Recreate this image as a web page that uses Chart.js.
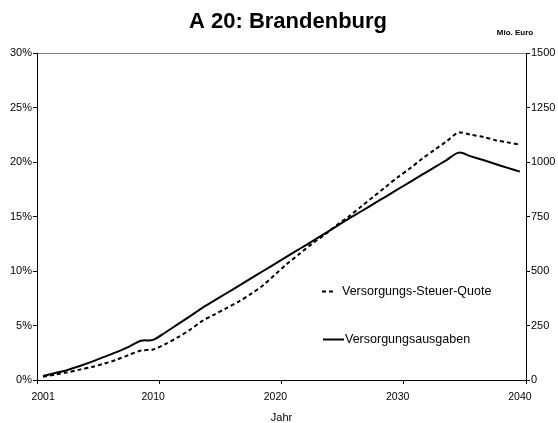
<!DOCTYPE html>
<html>
<head>
<meta charset="utf-8">
<script src="https://cdn.jsdelivr.net/npm/chart.js@4"></script>
<style>
  html, body { margin: 0; padding: 0; background: #fff; }
</style>
</head>
<body>
<canvas id="chart" width="558" height="423"></canvas>
<script>
  'use strict';

  var years = [2001, 2002, 2003, 2004, 2005, 2006, 2007, 2008, 2009, 2010,
               2011, 2012, 2013, 2014, 2015, 2016, 2017, 2018, 2019, 2020,
               2021, 2022, 2023, 2024, 2025, 2026, 2027, 2028, 2029, 2030,
               2031, 2032, 2033, 2034, 2035, 2036, 2037, 2038, 2039, 2040];

  // Versorgungs-Steuer-Quote in % (linke Achse)
  var quote = [0.3, 0.5, 0.7, 0.95, 1.2, 1.5, 1.85, 2.3, 2.7, 2.8,
               3.3, 3.9, 4.6, 5.4, 6.0, 6.6, 7.2, 7.9, 8.7, 9.7,
               10.7, 11.6, 12.5, 13.3, 14.2, 15.0, 15.9, 16.8, 17.7, 18.6,
               19.4, 20.3, 21.1, 21.9, 22.7, 22.5, 22.3, 22.0, 21.8, 21.6];

  // Versorgungsausgaben in Mio. Euro (rechte Achse)
  var ausgaben = [18, 32, 46, 64, 84, 106, 128, 152, 180, 184,
                  218, 255, 292, 330, 364, 398, 432, 466, 500, 534,
                  568, 602, 636, 670, 705, 740, 773, 807, 840, 874,
                  908, 942, 975, 1009, 1043, 1026, 1009, 991, 973, 956];

  var xTickLabels = ['2001', '2010', '2020', '2030', '2040'];

  var font = 'Liberation Sans';

  // title, unit label and legend inside the plot
  var extras = {
    id: 'extras',
    afterDraw: function(chart) {
      var ctx = chart.ctx;
      ctx.save();
      ctx.fillStyle = '#000';
      ctx.textBaseline = 'middle';

      ctx.textAlign = 'center';
      ctx.font = 'bold 22px ' + font;
      ctx.fillText('A 20: Brandenburg', 288, 22);

      ctx.font = 'bold 8px ' + font;
      ctx.fillText('Mio. Euro', 515, 33);

      var items = [
        { ds: chart.data.datasets[0], x1: 322, x2: 334, tx: 342, y: 291.5 },
        { ds: chart.data.datasets[1], x1: 323, x2: 344, tx: 345, y: 339.5 }
      ];
      ctx.textAlign = 'left';
      ctx.font = '12.5px ' + font;
      items.forEach(function(it) {
        ctx.beginPath();
        ctx.strokeStyle = it.ds.borderColor;
        ctx.lineWidth = it.ds.borderWidth;
        ctx.setLineDash(it.ds.borderDash || []);
        ctx.moveTo(it.x1, it.y);
        ctx.lineTo(it.x2, it.y);
        ctx.stroke();
        ctx.setLineDash([]);
        ctx.fillText(it.ds.label, it.tx, it.y);
      });
      ctx.restore();
    }
  };

  var chart = new Chart(document.getElementById('chart').getContext('2d'), {
    type: 'line',
    data: {
      labels: years,
      datasets: [{
        label: 'Versorgungs-Steuer-Quote',
        data: quote,
        yAxisID: 'y',
        borderColor: '#000',
        borderWidth: 2,
        borderDash: [4, 3],
        pointRadius: 0,
        tension: 0.3,
        fill: false
      }, {
        label: 'Versorgungsausgaben',
        data: ausgaben,
        yAxisID: 'y2',
        borderColor: '#000',
        borderWidth: 2,
        pointRadius: 0,
        tension: 0.3,
        fill: false
      }]
    },
    options: {
      responsive: false,
      animation: false,
      layout: { padding: { top: 53, left: 0, right: 0, bottom: 0 } },
      plugins: {
        legend: { display: false },
        tooltip: { enabled: false },
        title: { display: false }
      },
      scales: {
        x: {
          type: 'category',
          offset: true,
          grid: {
            offset: true,
            drawOnChartArea: false,
            tickLength: 4,
            tickColor: function(c) {
              if (c.index === undefined || c.index % 10 === 0) return '#000';
              return 'rgba(0,0,0,0)';
            }
          },
          border: { color: '#000', width: 1 },
          ticks: {
            autoSkip: false,
            maxRotation: 0,
            minRotation: 0,
            padding: 7,
            color: '#000',
            font: { family: font, size: 10.5 },
            callback: function(v) {
              var l = String(this.getLabelForValue(v));
              return xTickLabels.indexOf(l) >= 0 ? l : '';
            }
          },
          title: {
            display: true,
            text: 'Jahr',
            color: '#000',
            font: { family: font, size: 11, lineHeight: 1 },
            padding: { top: 0, bottom: 0 }
          },
          afterFit: function(s) { s.height = 43; }
        },
        y: {
          position: 'left',
          min: 0,
          max: 30,
          grid: {
            drawOnChartArea: true,
            color: function(c) {
              return c.tick && c.tick.value === 30 ? '#808080' : 'rgba(0,0,0,0)';
            },
            tickColor: '#000',
            tickLength: 4
          },
          border: { color: '#000', width: 1 },
          ticks: {
            stepSize: 5,
            padding: 1,
            color: '#000',
            font: { family: font, size: 11 },
            callback: function(v) { return v + '%'; }
          },
          afterFit: function(s) { s.width = 37; }
        },
        y2: {
          position: 'right',
          min: 0,
          max: 1500,
          grid: { drawOnChartArea: false, tickColor: '#000', tickLength: 4 },
          border: { color: '#000', width: 1 },
          ticks: {
            stepSize: 250,
            padding: 1,
            color: '#000',
            font: { family: font, size: 11 },
            callback: function(v) { return String(v); }
          },
          afterFit: function(s) { s.width = 32; }
        }
      }
    },
    plugins: [extras]
  });
</script>
</body>
</html>
